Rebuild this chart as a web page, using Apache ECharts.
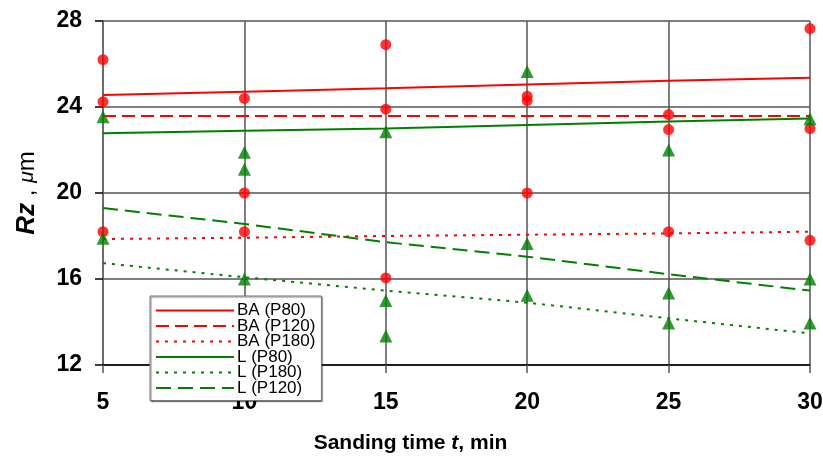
<!DOCTYPE html>
<html>
<head>
<meta charset="utf-8">
<script src="https://cdn.jsdelivr.net/npm/echarts@6/dist/echarts.min.js"></script>
<style>
  html, body { margin: 0; padding: 0; background: #fff; }
  #chart { width: 823px; height: 459px; }
</style>
</head>
<body>
<div id="chart"></div>
<script>
const times = [5, 10, 15, 20, 25, 30]
const yTicks = [12, 16, 20, 24, 28]

// measured points
const baPoints = [
  [5, 26.2], [5, 24.25], [5, 18.2],
  [10, 24.4], [10, 20.0], [10, 18.2],
  [15, 26.9], [15, 23.9], [15, 16.05],
  [20, 24.5], [20, 24.3], [20, 20.0],
  [25, 23.65], [25, 22.95], [25, 18.2],
  [30, 27.65], [30, 23.0], [30, 17.8]
]
const lPoints = [
  [5, 23.55], [5, 17.9],
  [10, 21.9], [10, 21.1], [10, 16.0],
  [15, 22.85], [15, 15.0], [15, 13.35],
  [20, 25.65], [20, 17.65], [20, 15.25],
  [25, 22.0], [25, 15.35], [25, 13.95],
  [30, 23.45], [30, 16.0], [30, 13.95]
]

// trend lines
const baP80 = [24.56, 24.71, 24.87, 25.05, 25.22, 25.36]
const baP120 = [23.58, 23.58, 23.58, 23.58, 23.58, 23.58]
const baP180 = [17.86, 17.92, 18.0, 18.06, 18.12, 18.2]
const lP80 = [22.78, 22.9, 23.0, 23.16, 23.32, 23.47]
const lP180 = [16.74, 16.08, 15.46, 14.9, 14.17, 13.47]
const lP120 = [19.3, 18.56, 17.71, 17.04, 16.22, 15.46]

const pairs = vals => times.map((t, i) => [t, vals[i]])

const chart = echarts.init(document.getElementById('chart'))

const lineSeries = (name, vals, color, type) => ({
  name: name,
  type: 'line',
  data: pairs(vals),
  symbol: 'none',
  z: 2,
  lineStyle: { color: color, width: 2, type: type },
  itemStyle: { color: color },
  animation: false
})

const font = 'Arial, "Liberation Sans", sans-serif'

const option = {
  animation: false,
  grid: { left: 103, right: 13, top: 21, bottom: 94, containLabel: false, outerBoundsMode: 'none' },
  legend: {
    left: 150,
    top: 296,
    orient: 'vertical',
    itemWidth: 78,
    itemHeight: 12,
    itemGap: -1.5,
    padding: [6, 6, 4, 5],
    backgroundColor: '#fff',
    borderColor: '#777',
    borderWidth: 1,
    shadowColor: 'rgba(0,0,0,0.5)',
    shadowOffsetX: 1,
    shadowOffsetY: 1,
    shadowBlur: 1,
    itemStyle: { opacity: 0 },
    textStyle: { fontFamily: font, fontSize: 17, color: '#000', padding: [0, 0, 0, -2] },
    data: ['BA (P80)', 'BA (P120)', 'BA (P180)', 'L (P80)', 'L (P180)', 'L (P120)']
  },
  xAxis: {
    type: 'value',
    min: 5,
    max: 30,
    interval: 5,
    name: '{a|Sanding time }{b|t}{a|, min}',
    nameLocation: 'middle',
    nameGap: 68,
    nameTextStyle: {
      padding: [0, 92, 0, 0],
      rich: {
        a: { fontFamily: font, fontSize: 21, fontWeight: 'bold', color: '#000' },
        b: { fontFamily: font, fontSize: 21, fontWeight: 'bold', fontStyle: 'italic', color: '#000' }
      }
    },
    axisLine: { show: true, lineStyle: { color: '#000', width: 1.5 } },
    axisTick: { show: true, inside: false, length: 8, lineStyle: { color: '#555', width: 1.5 } },
    axisLabel: { margin: 26, fontFamily: font, fontSize: 23, fontWeight: 'bold', color: '#000' },
    splitLine: { show: true, lineStyle: { color: '#555', width: 1.5 } }
  },
  yAxis: {
    type: 'value',
    min: yTicks[0],
    max: yTicks[yTicks.length - 1],
    interval: 4,
    name: '{a|Rz}{c| , }{b|μ}{c|m}',
    nameLocation: 'middle',
    nameRotate: 90,
    nameGap: 63,
    nameTextStyle: {
      rich: {
        a: { fontFamily: font, fontSize: 26, fontWeight: 'bold', fontStyle: 'italic', color: '#000' },
        b: { fontFamily: font, fontSize: 21, fontStyle: 'italic', color: '#000' },
        c: { fontFamily: font, fontSize: 24, color: '#000' }
      }
    },
    axisLine: { show: true, lineStyle: { color: '#666', width: 1.5 } },
    axisTick: { show: true, inside: false, length: 8, lineStyle: { color: '#000', width: 1.5 } },
    axisLabel: { margin: 21, fontFamily: font, fontSize: 23, fontWeight: 'bold', color: '#000' },
    splitLine: { show: true, lineStyle: { color: '#555', width: 1.5 } }
  },
  series: [
    lineSeries('BA (P80)', baP80, '#ff0000', 'solid'),
    lineSeries('BA (P120)', baP120, '#ff0000', [13, 6]),
    lineSeries('BA (P180)', baP180, '#ff0000', [3, 6]),
    lineSeries('L (P80)', lP80, '#008000', 'solid'),
    lineSeries('L (P180)', lP180, '#008000', [3, 6]),
    lineSeries('L (P120)', lP120, '#008000', [15, 7]),
    {
      name: 'BA points',
      type: 'scatter',
      data: baPoints,
      symbol: 'circle',
      symbolSize: 11,
      z: 3,
      itemStyle: { color: '#ff0000' }
    },
    {
      name: 'L points',
      type: 'scatter',
      data: lPoints,
      symbol: 'triangle',
      symbolSize: 13,
      z: 4,
      itemStyle: { color: '#008000' }
    }
  ]
}

chart.setOption(option)
</script>
</body>
</html>
